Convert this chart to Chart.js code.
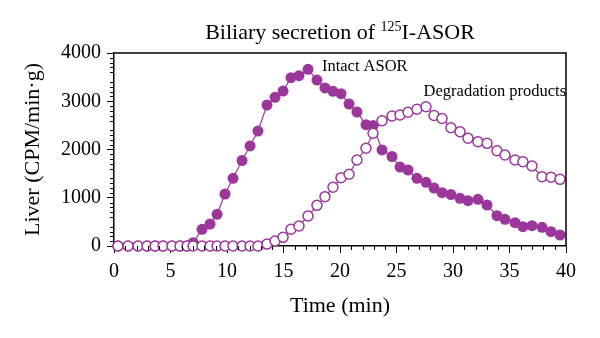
<!DOCTYPE html>
<html>
<head>
<meta charset="utf-8">
<script src="https://cdn.jsdelivr.net/npm/chart.js@4.4.0/dist/chart.umd.min.js"></script>
<style>
  html, body { margin: 0; padding: 0; background: #fff; }
  #wrap { position: relative; width: 600px; height: 338px; }
  #title {
    position: absolute; left: 0; width: 680px; top: 19px;
    text-align: center; white-space: nowrap;
    font-family: 'Liberation Serif', serif; font-size: 22px; color: #000;
  }
  #title sup { font-size: 14px; vertical-align: 8px; line-height: 0; }
</style>
</head>
<body>
<div id="wrap">
  <canvas id="chart" width="600" height="338"></canvas>
  <div id="title">Biliary secretion of <sup>125</sup>I-ASOR</div>
</div>
<script>
// ---- data ----
const timeMin = [0.35, 1.24, 2.12, 2.92, 3.63, 4.34, 5.13, 5.84, 6.46, 7.0, 7.79, 8.5, 9.12, 9.82,
  10.53, 11.33, 12.04, 12.74, 13.54, 14.25, 14.96, 15.66, 16.37, 17.17, 17.96, 18.67, 19.38, 20.09,
  20.8, 21.5, 22.3, 22.92, 23.72, 24.6, 25.31, 26.02, 26.81, 27.61, 28.32, 29.03, 29.82, 30.62,
  31.33, 32.21, 33.01, 33.89, 34.6, 35.49, 36.19, 36.99, 37.88, 38.67, 39.47];

const intactASOR = [0, 0, 0, 0, 0, 0, 0, 0, 0,
  68, 346, 456, 657, 1078, 1403, 1772, 2073, 2383, 2922, 3082, 3212, 3488, 3529, 3662, 3440,
  3275, 3206, 3158, 2943, 2777, 2514, 2497, 1990, 1855, 1637, 1575, 1403, 1320, 1202, 1105,
  1067, 989, 939, 968, 850, 628, 553, 483, 400, 421, 388, 296, 228];

const degradation = [0, 0, 0, 0, 0, 0, 0, 0, 0, 0, 0, 0, 0, 0, 0, 0, 0, 0,
  40, 104, 180, 346, 415, 622, 843, 1022, 1217, 1416, 1486, 1782, 2025, 2336, 2597, 2694,
  2715, 2773, 2833, 2887, 2705, 2642, 2450, 2369, 2232, 2162, 2128, 1975, 1886, 1782, 1747,
  1658, 1436, 1424, 1382];

const xTicks = [0, 5, 10, 15, 20, 25, 30, 35, 40];
const yTicks = [0, 500, 1000, 1500, 2000, 2500, 3000, 3500, 4000];

const curveLabels = [
  { text: 'Intact ASOR', x: 18.4, y: 3710 },
  { text: 'Degradation products', x: 27.4, y: 3190 },
];

const PURPLE = '#9b379b';
const SERIF = "'Liberation Serif', 'Times New Roman', serif";

const pts = vals => vals.map((v, i) => ({ x: timeMin[i], y: v }));

// minor ticks, top/right frame, curve labels
const extras = {
  id: 'extras',
  afterDraw(chart) {
    const { ctx, chartArea: a, scales: { x, y } } = chart;
    ctx.save();
    ctx.strokeStyle = '#000';
    ctx.lineWidth = 1;
    ctx.beginPath();
    for (let t = 0; t <= 40; t++) {
      if (t % 5 === 0) continue;
      const px = Math.round(x.getPixelForValue(t)) + 0.5;
      ctx.moveTo(px, a.bottom); ctx.lineTo(px, a.bottom + 4);
    }
    for (let v = 0; v <= 4000; v += 100) {
      if (v % 500 === 0) continue;
      const py = Math.round(y.getPixelForValue(v)) + 0.5;
      ctx.moveTo(a.left - 4, py); ctx.lineTo(a.left, py);
    }
    ctx.stroke();
    ctx.lineWidth = 1.5;
    ctx.beginPath();
    ctx.moveTo(a.left, a.top); ctx.lineTo(a.right, a.top); ctx.lineTo(a.right, a.bottom);
    ctx.stroke();

    ctx.fillStyle = '#000';
    ctx.font = '16.5px ' + SERIF;
    ctx.textAlign = 'left';
    ctx.textBaseline = 'middle';
    curveLabels.forEach(l => ctx.fillText(l.text, x.getPixelForValue(l.x), y.getPixelForValue(l.y)));
    ctx.restore();
  }
};

new Chart(document.getElementById('chart'), {
  type: 'line',
  data: {
    datasets: [
      {
        label: 'Degradation products',
        data: pts(degradation),
        borderColor: PURPLE,
        borderWidth: 1.2,
        pointRadius: 5,
        pointBorderWidth: 1.5,
        pointBorderColor: PURPLE,
        pointBackgroundColor: '#fff',
        clip: false,
      },
      {
        label: 'Intact ASOR',
        data: pts(intactASOR),
        borderColor: PURPLE,
        borderWidth: 1.2,
        pointRadius: 5.5,
        pointBorderWidth: 0,
        pointBackgroundColor: PURPLE,
        clip: false,
      },
    ],
  },
  options: {
    responsive: false,
    animation: false,
    layout: { padding: { top: 53, right: 34, left: 0, bottom: 0 } },
    plugins: { legend: { display: false }, tooltip: { enabled: false } },
    scales: {
      x: {
        type: 'linear', min: 0, max: 40,
        afterBuildTicks: s => { s.ticks = xTicks.map(v => ({ value: v })); },
        afterFit: s => { s.height = 338 - 246; },
        ticks: { color: '#000', font: { family: SERIF, size: 20 }, padding: 7, maxRotation: 0,
          callback: v => String(v) },
        grid: { drawOnChartArea: false, drawTicks: true, tickLength: 7, color: '#000', lineWidth: 1 },
        border: { color: '#000', width: 1.5 },
        title: { display: true, text: 'Time (min)', color: '#000',
          font: { family: SERIF, size: 22 }, padding: { top: 0, bottom: 19 } },
      },
      y: {
        type: 'linear', min: 0, max: 4000,
        afterBuildTicks: s => { s.ticks = yTicks.map(v => ({ value: v })); },
        afterFit: s => { s.width = 114; },
        ticks: { color: '#000', font: { family: SERIF, size: 20 }, padding: 6,
          callback: v => String(v) },
        grid: { drawOnChartArea: false, drawTicks: true, tickLength: 7, color: '#000', lineWidth: 1 },
        border: { color: '#000', width: 1.5 },
        title: { display: true, text: 'Liver (CPM/min·g)', color: '#000',
          font: { family: SERIF, size: 22 }, padding: { top: 20, bottom: 0 } },
      },
    },
  },
  plugins: [extras],
});
</script>
</body>
</html>
